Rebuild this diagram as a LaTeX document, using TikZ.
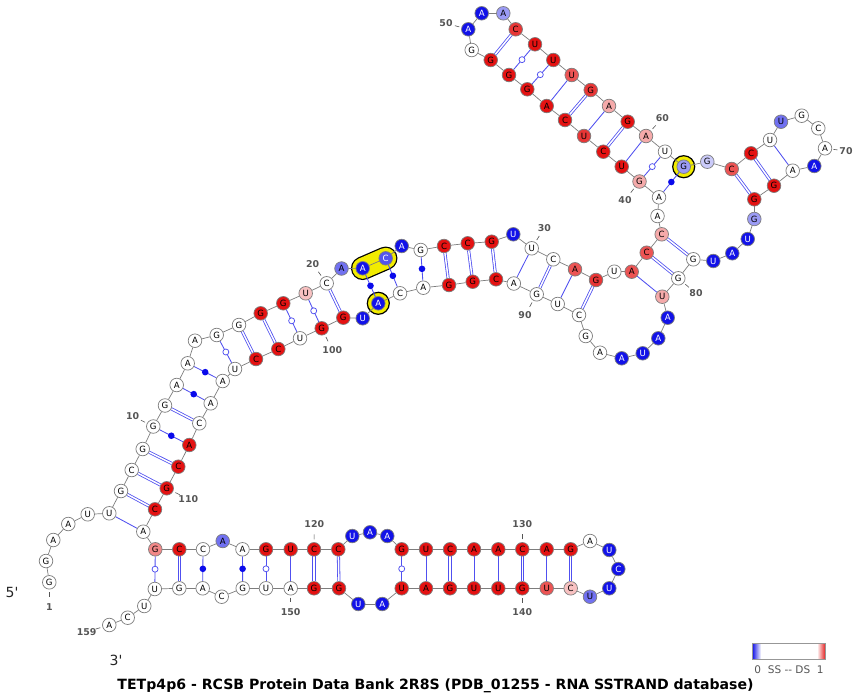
\documentclass[tikz,border=0pt]{standalone}
\usepackage{fontspec}
\setmainfont{DejaVu Sans}
\usetikzlibrary{calc}
\definecolor{ds}{RGB}{228,18,18}
\definecolor{ss}{RGB}{18,18,232}
\definecolor{rim}{RGB}{125,125,125}
\definecolor{bp}{RGB}{80,80,240}
\definecolor{dotc}{RGB}{10,10,235}
\definecolor{lblc}{RGB}{85,85,85}
\definecolor{hly}{RGB}{242,236,0}
\pgfdeclarelayer{paper}
\pgfdeclarelayer{hl}
\pgfdeclarelayer{links}
\pgfsetlayers{paper,hl,links,main}

\tikzset{
  base/.style={circle, draw=rim, line width=0.7pt, minimum size=13.6pt, inner sep=0pt,
               font=\fontsize{8.6}{8.6}\selectfont, text=black},
  fw/.style={base, fill=white},
  fr/.style={base, fill=ds},
  fr8/.style={base, fill=ds!85!white},
  fr7/.style={base, fill=ds!72!white},
  fp5/.style={base, fill=ds!50!white},
  fp/.style={base, fill=ds!36!white},
  fp2/.style={base, fill=ds!26!white},
  fb/.style={base, fill=ss, text=white},
  fb7/.style={base, fill=ss!72!white, text=white},
  fb6/.style={base, fill=ss!60!white},
  fb4/.style={base, fill=ss!42!white},
  fb2/.style={base, fill=ss!22!white},
  backbone/.style={draw=rim, line width=0.7pt},
  wc/.style={draw=bp, line width=0.8pt, double=white, double distance=1.5pt},
  au/.style={draw=bp, line width=0.85pt},
  wobmark/.style={circle, draw=bp, fill=white, line width=0.75pt, minimum size=6pt, inner sep=0pt},
  ncmark/.style={circle, fill=dotc, minimum size=6.6pt, inner sep=0pt},
  lbl/.style={font=\bfseries\fontsize{9.4}{9.4}\selectfont, text=lblc, inner sep=0pt},
  tick/.style={draw=lblc, line width=0.6pt},
  hlring/.style={circle, fill=hly, draw=black, line width=1.2pt, minimum size=22pt, inner sep=0pt},
  endmark/.style={font=\fontsize{14}{14}\selectfont, text=black!85},
}
\newcommand\nuc[5]{\node[#5] (n#1) at (#2,#3) {#4};}
\newcommand\numlbl[3]{\node[lbl] (l#1) at (#2,#3) {#1};
  \draw[tick] ($(n#1)!0.4!(l#1)$) -- ($(n#1)!0.6!(l#1)$);}
\newcommand\wcp[2]{\draw[wc] (n#1) -- (n#2);}
\newcommand\aup[2]{\draw[au] (n#1) -- (n#2);}
\newcommand\gup[2]{\draw[au] (n#1) -- (n#2) node[midway, wobmark] {};}
\newcommand\ncp[2]{\draw[au] (n#1) -- (n#2) node[midway, ncmark] {};}

\begin{document}
\begin{tikzpicture}[x=1pt, y=-1pt]
\begin{pgfonlayer}{paper}
  \fill[white] (0,0) rectangle (854,694);
\end{pgfonlayer}
\useasboundingbox (0,0) rectangle (854,694);

% nucleotides 1-159
\nuc{1}{49.3}{582.3}{G}{fw}
\nuc{2}{46}{561}{G}{fw}
\nuc{3}{53.3}{540}{A}{fw}
\nuc{4}{68.3}{524}{A}{fw}
\nuc{5}{87.7}{514.3}{U}{fw}
\nuc{6}{109.3}{513.3}{U}{fw}
\nuc{7}{121}{491}{G}{fw}
\nuc{8}{131.7}{470}{C}{fw}
\nuc{9}{142.7}{449}{G}{fw}
\nuc{10}{153.3}{426.5}{G}{fw}
\nuc{11}{165}{405.5}{G}{fw}
\nuc{12}{176.7}{385}{A}{fw}
\nuc{13}{187.7}{363.3}{A}{fw}
\nuc{14}{195}{340.7}{A}{fw}
\nuc{15}{216.7}{335}{G}{fw}
\nuc{16}{239}{325}{G}{fw}
\nuc{17}{260.7}{313.3}{G}{fr}
\nuc{18}{283.3}{303.3}{G}{fr}
\nuc{19}{305.7}{293.3}{U}{fp2}
\nuc{20}{326.7}{283.3}{C}{fw}
\nuc{21}{341.5}{268.5}{A}{fb6}
\nuc{22}{362.7}{268.3}{A}{fb}
\nuc{23}{385.7}{258.3}{C}{fb7}
\nuc{24}{401.7}{246}{A}{fb}
\nuc{25}{420.7}{250}{G}{fw}
\nuc{26}{444}{246}{C}{fr}
\nuc{27}{467.7}{243.3}{C}{fr}
\nuc{28}{491.7}{241.7}{G}{fr}
\nuc{29}{513.3}{234.3}{U}{fb}
\nuc{30}{531.7}{248.3}{U}{fw}
\nuc{31}{553.3}{259.3}{C}{fw}
\nuc{32}{575}{269.3}{A}{fr7}
\nuc{33}{596}{280}{G}{fr8}
\nuc{34}{614.3}{271.7}{U}{fw}
\nuc{35}{631.7}{271.7}{A}{fr7}
\nuc{36}{646.7}{252.7}{C}{fr7}
\nuc{37}{661.7}{234.3}{C}{fp}
\nuc{38}{657.5}{216}{A}{fw}
\nuc{39}{659}{197.3}{A}{fw}
\nuc{40}{639.5}{181.5}{G}{fp}
\nuc{41}{621.7}{166.7}{U}{fr}
\nuc{42}{603.3}{151.7}{C}{fr}
\nuc{43}{584}{136}{U}{fr8}
\nuc{44}{565}{120}{C}{fr}
\nuc{45}{546.7}{106}{A}{fr}
\nuc{46}{527.3}{89.3}{G}{fr}
\nuc{47}{509}{75}{G}{fr}
\nuc{48}{490.7}{60}{G}{fr}
\nuc{49}{471.7}{50}{G}{fw}
\nuc{50}{468.3}{29.3}{A}{fb}
\nuc{51}{481.7}{13.3}{A}{fb}
\nuc{52}{503.3}{13.3}{A}{fb4}
\nuc{53}{515.7}{29.3}{C}{fr8}
\nuc{54}{535}{44.3}{U}{fr}
\nuc{55}{553.3}{60}{U}{fr}
\nuc{56}{571.7}{75}{U}{fr7}
\nuc{57}{590.7}{90}{G}{fr8}
\nuc{58}{609}{106}{A}{fp}
\nuc{59}{627.7}{121.7}{G}{fr}
\nuc{60}{646}{136}{A}{fp}
\nuc{61}{665}{151.7}{U}{fw}
\nuc{62}{683.7}{166.7}{G}{fb4}
\nuc{63}{707.3}{161.7}{G}{fb2}
\nuc{64}{731.7}{169}{C}{fr7}
\nuc{65}{751}{153.3}{C}{fr}
\nuc{66}{770}{140}{U}{fw}
\nuc{67}{781}{121.7}{U}{fb6}
\nuc{68}{801.7}{115.7}{G}{fw}
\nuc{69}{818.3}{128.3}{C}{fw}
\nuc{70}{825}{148.3}{A}{fw}
\nuc{71}{814.3}{166}{A}{fb}
\nuc{72}{792.7}{170.7}{A}{fw}
\nuc{73}{774}{185.7}{G}{fr}
\nuc{74}{754.3}{199.3}{G}{fr}
\nuc{75}{754.3}{219}{G}{fb4}
\nuc{76}{747.7}{239}{U}{fb}
\nuc{77}{732.3}{253.3}{A}{fb}
\nuc{78}{713.3}{261}{U}{fb}
\nuc{79}{693.3}{259.3}{G}{fw}
\nuc{80}{678.3}{278.3}{G}{fw}
\nuc{81}{662.3}{296.7}{U}{fp}
\nuc{82}{667.7}{317.7}{A}{fb}
\nuc{83}{658.3}{338.3}{A}{fb}
\nuc{84}{642.7}{353.3}{U}{fb}
\nuc{85}{621.7}{358.3}{A}{fb}
\nuc{86}{600}{352.7}{A}{fw}
\nuc{87}{585.7}{336}{G}{fw}
\nuc{88}{579}{315}{C}{fw}
\nuc{89}{557.7}{304}{U}{fw}
\nuc{90}{536.7}{294.3}{G}{fw}
\nuc{91}{513.8}{283.5}{A}{fw}
\nuc{92}{496}{279.3}{C}{fr}
\nuc{93}{472.7}{281.7}{G}{fr}
\nuc{94}{449}{285}{G}{fr}
\nuc{95}{423.3}{287.7}{A}{fw}
\nuc{96}{400}{293.3}{C}{fw}
\nuc{97}{378.3}{303.3}{A}{fb}
\nuc{98}{362.7}{318.3}{U}{fb}
\nuc{99}{343.3}{317.7}{G}{fr}
\nuc{100}{321.7}{328.3}{G}{fr}
\nuc{101}{300}{338.3}{U}{fw}
\nuc{102}{278.3}{349}{C}{fr}
\nuc{103}{256}{359}{C}{fr}
\nuc{104}{235}{369}{U}{fw}
\nuc{105}{222.7}{381}{A}{fw}
\nuc{106}{210.7}{403.3}{A}{fw}
\nuc{107}{199.3}{423.3}{C}{fw}
\nuc{108}{189.3}{445}{A}{fr}
\nuc{109}{178.3}{466.7}{C}{fr}
\nuc{110}{166.7}{488.3}{G}{fr}
\nuc{111}{155}{509.3}{C}{fr}
\nuc{112}{143.3}{531.7}{A}{fw}
\nuc{113}{155.3}{549.3}{G}{fp5}
\nuc{114}{179.3}{549.3}{C}{fr}
\nuc{115}{203}{549.3}{C}{fw}
\nuc{116}{222.7}{541}{A}{fb6}
\nuc{117}{242.5}{549.3}{A}{fw}
\nuc{118}{266}{549.3}{G}{fr}
\nuc{119}{290.7}{549.3}{U}{fr}
\nuc{120}{314}{549.3}{C}{fr}
\nuc{121}{338.3}{549.3}{C}{fr}
\nuc{122}{352.3}{536}{U}{fb}
\nuc{123}{370}{532.3}{A}{fb}
\nuc{124}{387.3}{536}{A}{fb}
\nuc{125}{401.7}{549.3}{G}{fr}
\nuc{126}{426}{549.3}{U}{fr}
\nuc{127}{450}{549.3}{C}{fr}
\nuc{128}{474}{549.3}{A}{fr}
\nuc{129}{498.3}{549.3}{A}{fr}
\nuc{130}{522.3}{549.3}{C}{fr}
\nuc{131}{546.7}{549.3}{A}{fr}
\nuc{132}{570.7}{549.3}{G}{fr}
\nuc{133}{590}{541}{A}{fw}
\nuc{134}{609.3}{550}{U}{fb}
\nuc{135}{618.3}{569}{C}{fb}
\nuc{136}{609.3}{588.3}{U}{fb}
\nuc{137}{590}{596.7}{U}{fb6}
\nuc{138}{570.7}{588.3}{C}{fp2}
\nuc{139}{546.7}{588.3}{U}{fr7}
\nuc{140}{522.3}{588.3}{G}{fr}
\nuc{141}{498.3}{588.3}{U}{fr}
\nuc{142}{474}{588.3}{U}{fr}
\nuc{143}{450}{588.3}{G}{fr}
\nuc{144}{426}{588.3}{A}{fr}
\nuc{145}{401.7}{588.3}{U}{fr}
\nuc{146}{382.3}{604}{A}{fb}
\nuc{147}{358.3}{604}{U}{fb}
\nuc{148}{339}{588.3}{G}{fr}
\nuc{149}{314}{588.3}{G}{fr}
\nuc{150}{290.7}{588.3}{A}{fw}
\nuc{151}{266}{588.3}{U}{fw}
\nuc{152}{242.7}{588.3}{G}{fw}
\nuc{153}{221.7}{596.7}{C}{fw}
\nuc{154}{202.7}{588.3}{A}{fw}
\nuc{155}{179.3}{588.3}{G}{fw}
\nuc{156}{154.8}{589}{U}{fw}
\nuc{157}{144.3}{606}{U}{fw}
\nuc{158}{127.7}{617.7}{C}{fw}
\nuc{159}{109.3}{625}{A}{fw}

% highlighted residues
\begin{pgfonlayer}{hl}
  \draw[black, line width=23.5pt, line cap=round] (n22.center) -- (n23.center);
  \draw[hly, line width=21pt, line cap=round] (n22.center) -- (n23.center);
  \node[hlring] (h97) at (n97.center) {};
  \node[hlring] (h62) at (n62.center) {};
\end{pgfonlayer}

\begin{pgfonlayer}{links}
  % backbone
  \foreach \i [evaluate=\i as \j using int(\i+1)] in {1,...,158}
    \draw[backbone] (n\i) -- (n\j);
  % Watson-Crick G-C pairs
  \wcp{7}{111}\wcp{8}{110}\wcp{9}{109}\wcp{11}{107}\wcp{16}{103}\wcp{17}{102}
  \wcp{20}{99}\wcp{26}{94}\wcp{27}{93}\wcp{28}{92}\wcp{31}{90}\wcp{33}{88}
  \wcp{36}{80}\wcp{37}{79}\wcp{42}{59}\wcp{44}{57}\wcp{48}{53}\wcp{64}{74}
  \wcp{65}{73}\wcp{114}{155}\wcp{120}{149}\wcp{121}{148}\wcp{127}{143}
  \wcp{130}{140}\wcp{132}{138}
  % A-U pairs
  \aup{6}{112}\aup{30}{91}\aup{32}{89}\aup{35}{81}\aup{41}{60}\aup{43}{58}
  \aup{45}{56}\aup{66}{72}\aup{119}{150}\aup{126}{144}\aup{128}{142}
  \aup{129}{141}\aup{131}{139}
  % G-U wobble pairs
  \gup{15}{104}\gup{18}{101}\gup{19}{100}\gup{40}{61}\gup{46}{55}\gup{47}{54}
  \gup{113}{156}\gup{118}{151}\gup{125}{145}
  % non-canonical pairs
  \ncp{10}{108}\ncp{12}{106}\ncp{13}{105}\ncp{22}{97}\ncp{23}{96}\ncp{25}{95}
  \ncp{39}{62}\ncp{115}{154}\ncp{117}{152}
\end{pgfonlayer}

% position numbers
\numlbl{1}{49.3}{606.7}
\numlbl{10}{132.7}{416}
\numlbl{20}{312.7}{264}
\numlbl{30}{544.3}{227.7}
\numlbl{40}{625}{200}
\numlbl{50}{446}{23.3}
\numlbl{60}{662.3}{118.3}
\numlbl{70}{846}{151}
\numlbl{80}{696}{293.3}
\numlbl{90}{525}{315}
\numlbl{100}{332.3}{350}
\numlbl{110}{188.3}{499}
\numlbl{120}{314.3}{524.3}
\numlbl{130}{522.3}{524.3}
\numlbl{140}{522.3}{612.3}
\numlbl{150}{290.7}{611.7}
\numlbl{159}{86.7}{631.7}

% strand ends
\node[endmark] (five) at (12,592.3) {5\textquotesingle};
\node[endmark] (three) at (116,660) {3\textquotesingle};

% colour key
\shade[left color=ss, right color=white] (752.3,643.3) rectangle (761,659.3);
\fill[white] (761,643.3) rectangle (817,659.3);
\shade[left color=white, right color=ds] (817,643.3) rectangle (825.7,659.3);
\draw[rim!80, line width=0.6pt] (752.3,643.3) rectangle (825.7,659.3);
\node[font=\fontsize{10.5}{10.5}\selectfont, text=lblc] (key) at (789,669.5) {0\ \ SS -{}- DS\ \ 1};

% caption
\node[font=\bfseries\fontsize{14.1}{14.1}\selectfont, text=black] (title) at (435.5,685.5)
  {TETp4p6 - RCSB Protein Data Bank 2R8S (PDB\_01255 - RNA SSTRAND database)};
\end{tikzpicture}
\end{document}
